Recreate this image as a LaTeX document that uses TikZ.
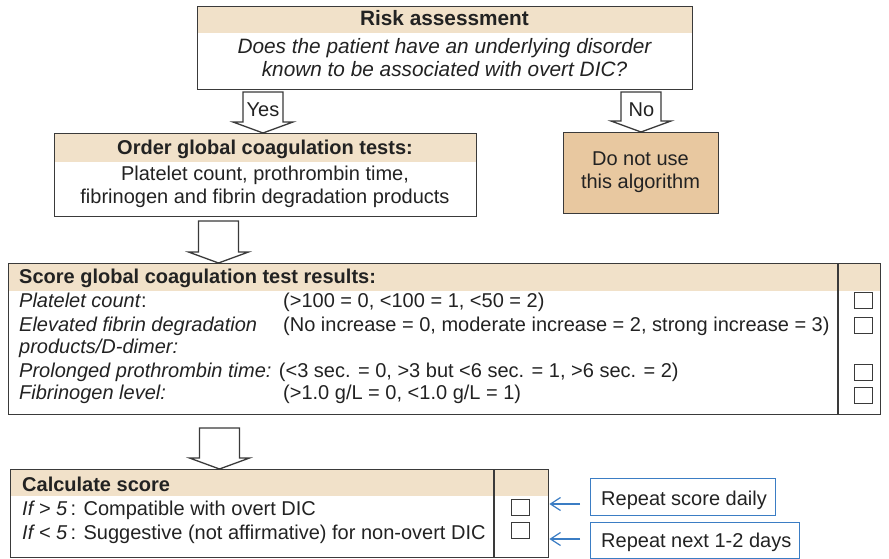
\documentclass[tikz,border=0pt]{standalone}
\usepackage{fontspec}
\setmainfont{Liberation Sans}
\usetikzlibrary{calc,arrows.meta}
\definecolor{bandc}{HTML}{F1E1C9}
\definecolor{tanc}{HTML}{E8C8A0}
\definecolor{edgec}{HTML}{3A3A3A}
\definecolor{inkc}{HTML}{222222}
\definecolor{bluc}{HTML}{3B7DC4}
\pgfdeclarelayer{bg}
\pgfsetlayers{bg,main}
\newcommand\BlkArrow[2]{%
  \draw[barrow] ($(#1)+(-20,0)$) -- ($(#2)+(-20,-11)$) -- ($(#2)+(-30,-11)$) -- (#2)
    -- ($(#2)+(30,-11)$) -- ($(#2)+(20,-11)$) -- ($(#1)+(20,0)$) -- cycle;}
\begin{document}
\begin{tikzpicture}[x=1pt,y=-1pt,
  boxn/.style={draw=edgec, line width=1.4pt, rectangle, inner sep=0pt, anchor=north west},
  chk/.style={draw=edgec, line width=1pt, rectangle, inner sep=0pt, minimum width=18pt, minimum height=16pt},
  bluebox/.style={draw=bluc, line width=1.2pt, rectangle, inner sep=0pt, anchor=north west},
  barrow/.style={draw=edgec, line width=1.3pt, fill=white, line join=miter},
  bluearr/.style={draw=bluc, line width=1.2pt, -{Straight Barb[length=10pt,width=13pt]}},
  divl/.style={draw=edgec, line width=1.3pt},
  txt/.style={inner sep=0pt, anchor=base, text=inkc, font=\fontsize{20}{24}\selectfont},
  txtl/.style={txt, anchor=base west},
  bigtxt/.style={txt, font=\fontsize{20.8}{25}\selectfont}]
\useasboundingbox (0,0) rectangle (889,559);

% --- boxes ---
\node[boxn, minimum width=495pt, minimum height=83pt] (risk) at (197,6) {};
\node[boxn, minimum width=422pt, minimum height=83pt] (order) at (54,133) {};
\node[boxn, fill=tanc, minimum width=155pt, minimum height=81pt] (dnu) at (563,132) {};
\node[boxn, minimum width=872pt, minimum height=151pt] (score) at (8,263) {};
\node[boxn, minimum width=538pt, minimum height=88pt] (calc) at (10,469) {};
\node[bluebox, minimum width=185pt, minimum height=37pt] (rep1) at (590,478) {};
\node[bluebox, minimum width=209pt, minimum height=36pt] (rep2) at (590,522) {};

\begin{pgfonlayer}{bg}
  \fill[bandc] (risk.north west) rectangle ($(risk.north east)+(0,27)$);
  \fill[bandc] (order.north west) rectangle ($(order.north east)+(0,29)$);
  \fill[bandc] (score.north west) rectangle ($(score.north east)+(0,28)$);
  \fill[bandc] (calc.north west) rectangle ($(calc.north east)+(0,27)$);
\end{pgfonlayer}

% dividers
\draw[divl] (838,263) -- (838,414);
\draw[divl] (494,469) -- (494,557);

% --- block arrows ---
\coordinate (yesT) at (263,92);
\coordinate (yesE) at (yesT |- order.north);
\BlkArrow{yesT}{yesE}
\coordinate (noT) at (641,92);
\coordinate (noE) at (noT |- dnu.north);
\BlkArrow{noT}{noE}
\coordinate (a2T) at (218.5,221);
\coordinate (a2E) at (a2T |- score.north);
\BlkArrow{a2T}{a2E}
\coordinate (a3T) at (219.5,428);
\coordinate (a3E) at (a3T |- calc.north);
\BlkArrow{a3T}{a3E}
\node[txt] (yes) at (263,117) {Yes};
\node[txt] (no) at (641.5,117) {No};

% --- risk texts ---
\node[bigtxt, font=\fontsize{20.8}{25}\selectfont\bfseries] (riskh) at (444.5,26) {Risk assessment};
\node[bigtxt, font=\fontsize{20.8}{25}\selectfont\itshape] (riskl1) at (444.5,54) {Does the patient have an underlying disorder};
\node[bigtxt, font=\fontsize{20.8}{25}\selectfont\itshape] (riskl2) at (444.5,77) {known to be associated with overt DIC?};

% --- order texts ---
\node[txt, font=\fontsize{20}{24}\selectfont\bfseries] (orderh) at (265,155) {Order global coagulation tests:};
\node[txt] (orderl1) at (265,181) {Platelet count, prothrombin time,};
\node[txt] (orderl2) at (265,203) {fibrinogen and fibrin degradation products};

% --- do not use ---
\node[txt] (dnul1) at (640.5,166) {Do not use};
\node[txt] (dnul2) at (640.5,188) {this algorithm};

% --- score texts ---
\node[txtl, font=\fontsize{20}{24}\selectfont\bfseries] (scoreh) at (19,283) {Score global coagulation test results:};
\node[txtl] (s1l) at (19,307) {\textit{Platelet count}:};
\node[txtl] (s1v) at (283,307) {(>100 = 0, <100 = 1, <50 = 2)};
\node[txtl] (s2l) at (19,331) {\textit{Elevated fibrin degradation}};
\node[txtl] (s2v) at (283,331) {(No increase = 0, moderate increase = 2, strong increase = 3)};
\node[txtl] (s2m) at (19,353) {\textit{products/D-dimer:}};
\node[txtl] (s3) at (19,377) {\textit{Prolonged prothrombin time:} (<3 sec. = 0, >3 but <6 sec. = 1, >6 sec. = 2)};
\node[txtl] (s4l) at (19,399) {\textit{Fibrinogen level:}};
\node[txtl] (s4v) at (283,399) {(>1.0 g/L = 0, <1.0 g/L = 1)};
\node[chk] (cb1) at (863.5,300.5) {};
\node[chk] (cb2) at (863.5,325.5) {};
\node[chk] (cb3) at (863.5,372.5) {};
\node[chk] (cb4) at (863.5,395.5) {};

% --- calc texts ---
\node[txtl, font=\fontsize{20}{24}\selectfont\bfseries] (calch) at (22,491) {Calculate score};
\node[txtl] (c1) at (22,515) {\textit{If > 5}\,: Compatible with overt DIC};
\node[txtl] (c2) at (22,539) {\textit{If < 5}\,: Suggestive (not affirmative) for non-overt DIC};
\node[chk] (cb5) at (520,507) {};
\node[chk] (cb6) at (520,530.5) {};

% --- repeat boxes ---
\node[txtl] (r1) at (601,505) {Repeat score daily};
\node[txtl] (r2) at (601,547) {Repeat next 1-2 days};
\coordinate (b1) at (580,504);
\coordinate (b2) at (580,539);
\draw[bluearr] (b1) -- (b1 -| calc.east);
\draw[bluearr] (b2) -- (b2 -| calc.east);
\end{tikzpicture}
\end{document}
